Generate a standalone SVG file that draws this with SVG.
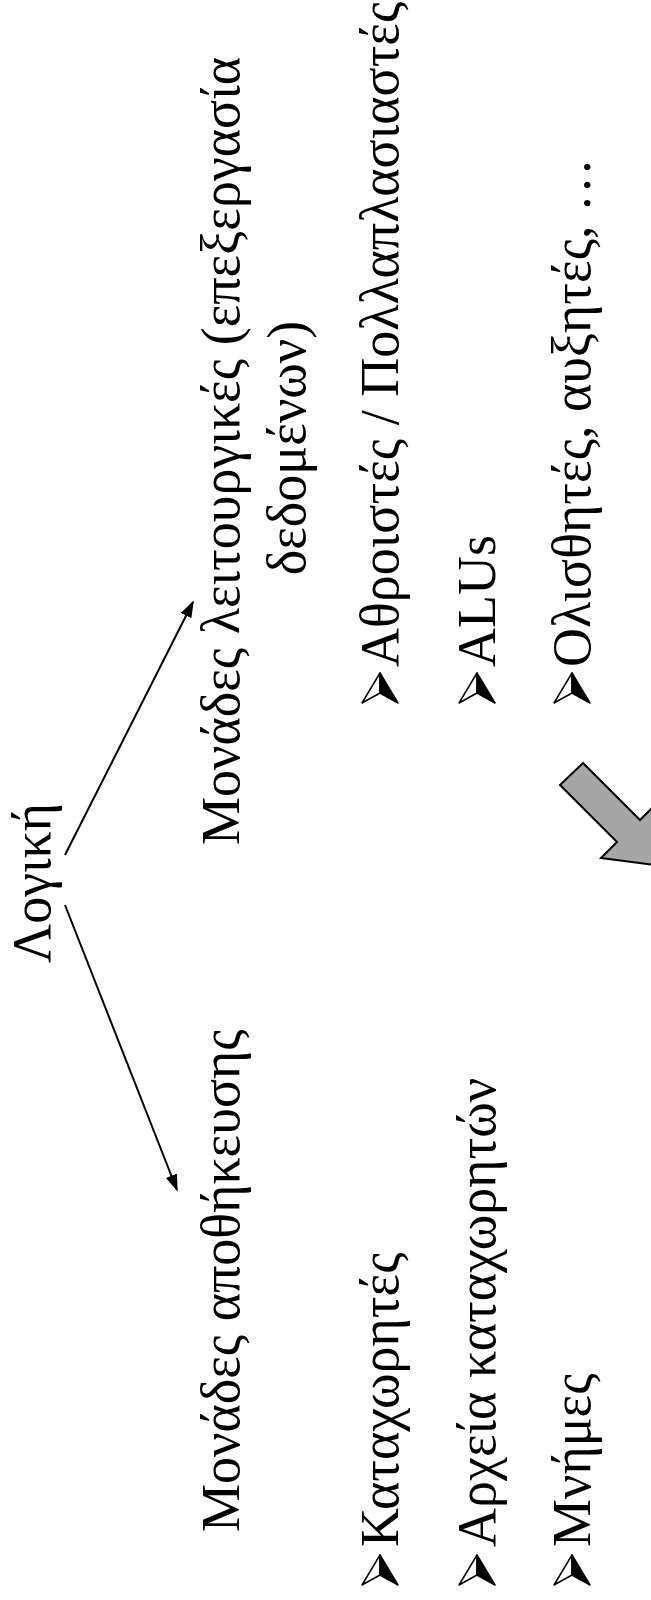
<svg xmlns="http://www.w3.org/2000/svg" width="651" height="1600" viewBox="0 0 651 1600">
  <style>
    .t { font-family: "Liberation Serif", "Times New Roman", "DejaVu Serif", serif; font-size: 54px; fill: #000; }
    .link { stroke: #000; stroke-width: 2; fill: none; }
  </style>
  <defs>
    <marker id="head" viewBox="0 0 10 10" refX="9" refY="5" markerWidth="8.5" markerHeight="8.5" orient="auto" markerUnits="strokeWidth">
      <path d="M0,1.5 L10,5 L0,8.5 z" fill="#000"/>
    </marker>
    <!-- 3D arrowhead bullet, origin at lower back corner on the baseline -->
    <g id="bullet">
      <polygon points="0,-36 30,-18 10,-18" fill="#fff" stroke="#000" stroke-width="1.5" stroke-linejoin="round"/>
      <polygon points="30,-18 0,0 10,-18" fill="#000" stroke="#000" stroke-width="1.5" stroke-linejoin="round"/>
    </g>
  </defs>
  <rect width="651" height="1600" fill="#fff"/>

  <!-- the slide is laid out in landscape coordinates and turned a quarter turn -->
  <g transform="matrix(0,-1,1,0,0,1600)">
    <g id="connectors">
      <line class="link" x1="695" y1="65" x2="410" y2="177" marker-end="url(#head)"/>
      <line class="link" x1="745" y1="65" x2="998" y2="193" marker-end="url(#head)"/>
    </g>

    <g id="logic">
      <text class="t" x="637" y="50">Λογική</text>
    </g>

    <g id="storage">
      <text class="t" x="68" y="239">Μονάδες αποθήκευσης</text>
    </g>

    <g id="functional">
      <text class="t" x="755" y="239">Μονάδες λειτουργικές (επεξεργασία</text>
      <text class="t" x="1152" y="305" text-anchor="middle">δεδομένων)</text>
    </g>

    <g id="storage-items">
      <use href="#bullet" x="15" y="398"/>
      <text class="t" x="53" y="398">Καταχωρητές</text>
      <use href="#bullet" x="15" y="495"/>
      <text class="t" x="53" y="495">Αρχεία καταχωρητών</text>
      <use href="#bullet" x="15" y="590"/>
      <text class="t" x="53" y="590">Μνήμες</text>
    </g>

    <g id="functional-items">
      <use href="#bullet" x="897" y="398"/>
      <text class="t" x="933" y="398">Αθροιστές / Πολλαπλασιαστές</text>
      <use href="#bullet" x="897" y="495"/>
      <text class="t" x="933" y="495">ALUs</text>
      <use href="#bullet" x="897" y="590"/>
      <text class="t" x="933" y="590">Ολισθητές, αυξητές, …</text>
    </g>

    <!-- grey block arrow running off the lower edge -->
    <g id="block-arrow">
      <polygon points="837,583 780,640 796,656 734,663 742,601 758,617 815,560" fill="#a6a6a6" stroke="#000" stroke-width="2" stroke-linejoin="miter"/>
    </g>
  </g>
</svg>
